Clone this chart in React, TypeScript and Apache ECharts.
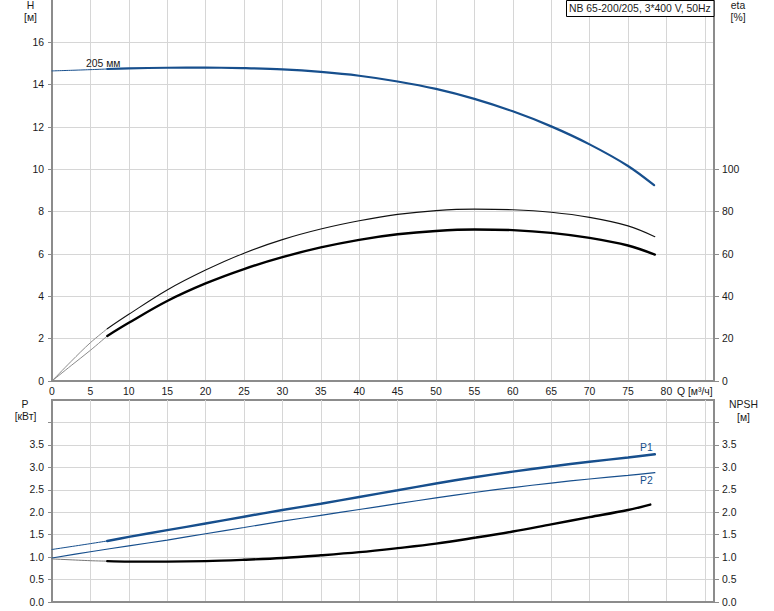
import React, { useEffect, useRef } from "react";
import * as echarts from "echarts";

// ---- data (Q in m³/h) ----
const Q_MAX = 86.2;
const qLabelTicks = [0, 5, 10, 15, 20, 25, 30, 35, 40, 45, 50, 55, 60, 65, 70, 75, 80];
const hTicks = [0, 2, 4, 6, 8, 10, 12, 14, 16];
const etaTicks = [0, 20, 40, 60, 80, 100];
const pLabelTicks = [0, 0.5, 1, 1.5, 2, 2.5, 3, 3.5];
const pTickMarks = [0, 0.5, 1, 1.5, 2, 2.5, 3, 3.5, 4];

// Head H [м], 205 мм impeller
const headExt = [[0, 14.65], [3.5, 14.69], [7.2, 14.74]];
const head = [
  [7.2, 14.74], [10, 14.77], [15, 14.8], [20, 14.81], [25, 14.78], [30, 14.72], [35, 14.6],
  [40, 14.42], [45, 14.15], [50, 13.8], [55, 13.33], [60, 12.74], [65, 12.03], [70, 11.18],
  [75, 10.16], [78.4, 9.25],
];

// Efficiency eta [%] (upper thin curve)
const etaPumpExt = [[0, 0], [2.5, 9.3], [5, 18.1], [7.2, 24.7]];
const etaPump = [
  [7.2, 24.7], [10, 31.5], [15, 43], [20, 52.4], [25, 60.4], [30, 66.8], [35, 71.8], [40, 75.7],
  [45, 78.7], [50, 80.5], [55, 81.2], [60, 80.9], [65, 79.7], [70, 77.3], [75, 73.3], [78.5, 68.2],
];
// Efficiency eta [%] (lower thick curve)
const etaTotalExt = [[0, 0], [2.5, 7.3], [5, 14.5], [7.2, 21.3]];
const etaTotal = [
  [7.2, 21.3], [10, 27.5], [15, 37.8], [20, 46.1], [25, 52.9], [30, 58.5], [35, 63.1], [40, 66.7],
  [45, 69.3], [50, 70.9], [55, 71.6], [60, 71.3], [65, 70.0], [70, 67.6], [75, 64.0], [78.5, 59.7],
];

// Power P1 [кВт]
const p1Ext = [[0, 1.17], [5, 1.3], [7.2, 1.36]];
const p1 = [
  [7.2, 1.36], [10, 1.45], [15, 1.6], [20, 1.75], [25, 1.9], [30, 2.05], [35, 2.19], [40, 2.34],
  [45, 2.49], [50, 2.64], [55, 2.78], [60, 2.905], [65, 3.02], [70, 3.125], [75, 3.22], [78.5, 3.29],
];
// Power P2 [кВт]
const p2 = [
  [0, 0.98], [5, 1.12], [10, 1.25], [15, 1.38], [20, 1.52], [25, 1.66], [30, 1.8], [35, 1.93],
  [40, 2.06], [45, 2.19], [50, 2.32], [55, 2.44], [60, 2.55], [65, 2.65], [70, 2.74], [75, 2.82],
  [78.5, 2.88],
];
// NPSH [м]
const npshExt = [[0, 0.96], [5, 0.92], [7.2, 0.91]];
const npsh = [
  [7.2, 0.91], [10, 0.9], [15, 0.9], [20, 0.91], [25, 0.94], [30, 0.98], [35, 1.04], [40, 1.11],
  [45, 1.2], [50, 1.3], [55, 1.43], [60, 1.57], [65, 1.73], [70, 1.89], [75, 2.05], [77.9, 2.17],
];

const TITLE = "NB 65-200/205, 3*400 V, 50Hz";

const BLUE = "#174f8d";
const AXIS = "#8c8c8c";
const GRID = "#d6d6d6";
const TXT = "#1a1a1a";
const FONT = "Liberation Sans, Arial, sans-serif";
const FS = 10.4;

function line(data: number[][], xi: number, yi: number, color: string, width: number) {
  return {
    type: "line",
    data,
    xAxisIndex: xi,
    yAxisIndex: yi,
    smooth: 0.35,
    symbol: "none",
    showSymbol: false,
    silent: true,
    lineStyle: { color, width, cap: "round" },
  };
}

function txt(text: string, x: number, y: number, align = "center", color = TXT) {
  return {
    type: "text",
    x,
    y,
    z: 100,
    style: { text, fill: color, font: `${FS}px ${FONT}`, textAlign: align, textVerticalAlign: "middle" },
  };
}

export default function App() {
  const ref = useRef<HTMLDivElement>(null);
  useEffect(() => {
    if (!ref.current) return;
    const chart = echarts.init(ref.current, undefined, { renderer: "svg" });
    const labelStyle = { fontSize: FS, color: TXT, fontFamily: FONT };
    const axisLine = { show: true, onZero: false, lineStyle: { color: AXIS, width: 2 } };
    const splitLine = { show: true, lineStyle: { color: GRID, width: 1 } };
    const tick = (vals: number[], len: number) => ({
      show: true,
      customValues: vals,
      length: len,
      lineStyle: { color: AXIS, width: 1 },
    });
    chart.setOption({
      animation: false,
      backgroundColor: "#fff",
      grid: [
        { left: 52, top: 0, width: 662, height: 381 },
        { left: 52, top: 400, width: 662, height: 202, show: true, borderColor: AXIS, borderWidth: 2 },
      ],
      xAxis: [
        {
          gridIndex: 0, type: "value", min: 0, max: Q_MAX, interval: 5,
          axisLine, axisTick: { show: false },
          axisLabel: { ...labelStyle, margin: 5, customValues: qLabelTicks },
          splitLine,
        },
        {
          gridIndex: 1, type: "value", min: 0, max: Q_MAX, interval: 5,
          axisLine, axisTick: { show: false }, axisLabel: { show: false }, splitLine,
        },
      ],
      yAxis: [
        {
          gridIndex: 0, type: "value", position: "left", min: 0, max: 18, interval: 2,
          axisLine, axisTick: tick(hTicks, 4),
          axisLabel: { ...labelStyle, margin: 8, customValues: hTicks },
          splitLine,
        },
        {
          gridIndex: 0, type: "value", position: "right", min: 0, max: 180, interval: 20,
          axisLine, axisTick: tick(etaTicks, 5),
          axisLabel: { ...labelStyle, margin: 8, customValues: etaTicks },
          splitLine: { show: false },
        },
        {
          gridIndex: 1, type: "value", position: "left", min: 0, max: 4.5, interval: 0.5,
          axisLine, axisTick: tick(pTickMarks, 4),
          axisLabel: { ...labelStyle, margin: 8, customValues: pLabelTicks, formatter: (v: number) => v.toFixed(1) },
          splitLine,
        },
        {
          gridIndex: 1, type: "value", position: "right", min: 0, max: 4.5, interval: 0.5,
          axisLine, axisTick: tick(pTickMarks, 5),
          axisLabel: { ...labelStyle, margin: 8, customValues: pLabelTicks, formatter: (v: number) => v.toFixed(1) },
          splitLine: { show: false },
        },
      ],
      series: [
        line(headExt, 0, 0, BLUE, 1),
        line(head, 0, 0, BLUE, 2.2),
        line(etaPumpExt, 0, 1, "#8a8a8a", 1),
        line(etaPump, 0, 1, "#111", 1.1),
        line(etaTotalExt, 0, 1, "#8a8a8a", 1),
        line(etaTotal, 0, 1, "#000", 2.4),
        line(p1Ext, 1, 2, BLUE, 1),
        line(p1, 1, 2, BLUE, 2.4),
        line(p2, 1, 2, BLUE, 1.2),
        line(npshExt, 1, 3, "#777", 1),
        line(npsh, 1, 3, "#000", 2.4),
      ],
      graphic: [
        {
          type: "rect", z: 99,
          shape: { x: 566.5, y: 0.5, width: 147.5, height: 16 },
          style: { fill: "#fff", stroke: "#000", lineWidth: 1 },
        },
        txt(TITLE, 569, 8.5, "left"),
        txt("H", 30.5, 5.5),
        txt("[м]", 30.5, 17),
        txt("eta", 738, 5.5),
        txt("[%]", 738, 17),
        txt("P", 25, 404.5),
        txt("[кВт]", 25.5, 416.5),
        txt("NPSH", 743.5, 404.5),
        txt("[м]", 743.5, 417),
        txt("Q [м³/ч]", 677, 391.5, "left"),
        txt("205 мм", 86, 63.5, "left"),
        txt("P1", 640, 447, "left", BLUE),
        txt("P2", 640, 480, "left", BLUE),
      ],
    });
    return () => chart.dispose();
  }, []);
  return <div ref={ref} style={{ position: "absolute", left: 0, top: 0, width: 774, height: 611 }} />;
}
